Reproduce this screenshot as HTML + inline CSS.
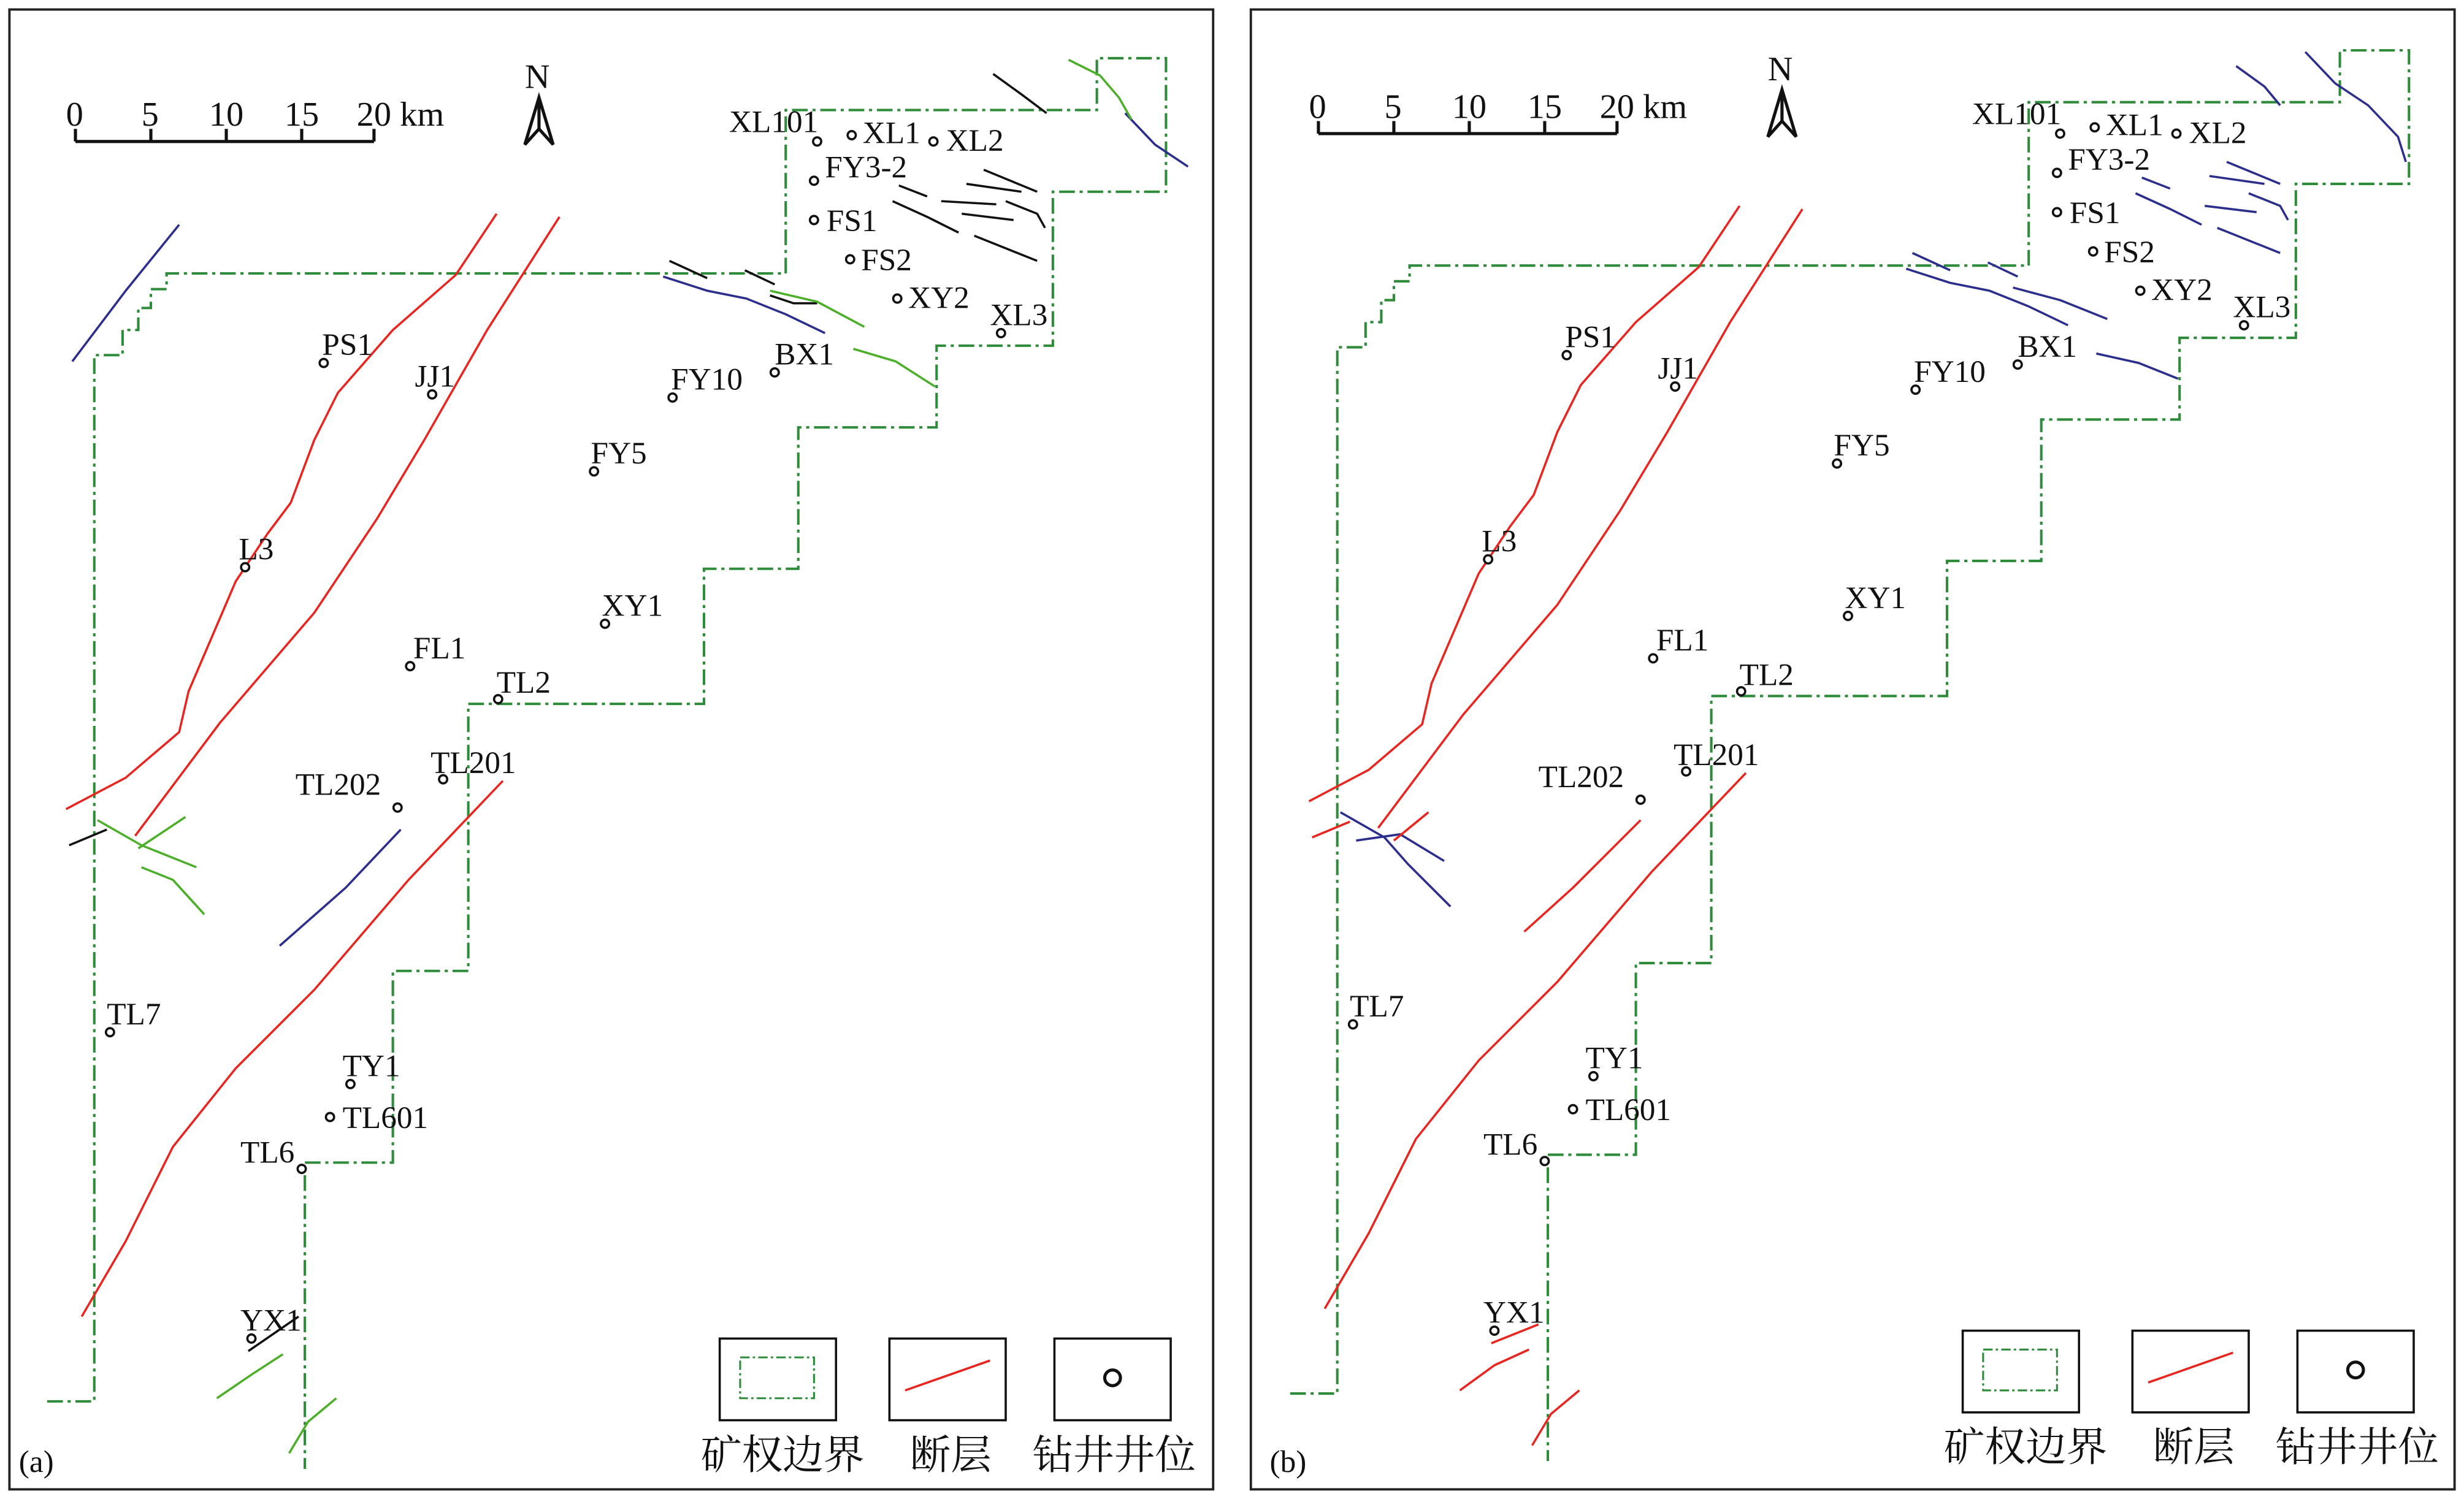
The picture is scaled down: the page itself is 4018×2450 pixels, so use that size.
<!DOCTYPE html>
<html><head><meta charset="utf-8"><style>
html,body{margin:0;padding:0;background:#fff;}
svg{display:block;}
text{font-family:"Liberation Serif","Noto Serif CJK SC",serif;fill:#111;}
.w{font-size:20px;}
.s{font-size:22px;}
.lg{font-size:26px;font-family:"Liberation Serif","Noto Serif CJK SC","Noto Sans CJK SC",serif;}
.b{fill:none;stroke:#2e8b3a;stroke-width:1.6;stroke-dasharray:10,3,2,3;}
.r{fill:none;stroke:#e8251f;stroke-width:1.4;stroke-linejoin:round;}
.bl{fill:none;stroke:#2b2e8c;stroke-width:1.4;stroke-linejoin:round;}
.g{fill:none;stroke:#4caf2a;stroke-width:1.4;stroke-linejoin:round;}
.k{fill:none;stroke:#111;stroke-width:1.4;stroke-linejoin:round;}
.d{fill:#fff;stroke:#111;stroke-width:1.4;}
</style></head><body>
<svg width="4018" height="2450" viewBox="0 0 1568 956" xmlns="http://www.w3.org/2000/svg">
<rect width="1568" height="956" fill="#fff"/>
<defs>
<g id="common">
<polyline class="b" points="30,892 60,892 60,226 78,226 78,210 88,210 88,196 96,196 96,184 106,184 106,174 500,174 500,70 698,70 698,37 742,37 742,122 670,122 670,220 596,220 596,272 508,272 508,362 448,362 448,448 298,448 298,618 250,618 250,740 194,740 194,935"/>
<path d="M48,90 H238 M48,82 V90 M96,82 V90 M144,82 V90 M192,82 V90 M238,82 V90" stroke="#111" stroke-width="2" fill="none"/>
<text x="42" y="80" class="s">0</text><text x="90" y="80" class="s">5</text><text x="133" y="80" class="s">10</text><text x="181" y="80" class="s">15</text><text x="227" y="80" class="s">20 km</text>
<text x="334" y="56" class="s">N</text>
<path d="M343,62 L334,92 L343,82 L352,92 Z" fill="none" stroke="#111" stroke-width="2"/>
<path d="M343,62 L343,82" stroke="#111" stroke-width="2"/>
<rect x="458" y="852" width="74" height="52" fill="none" stroke="#111" stroke-width="1.4"/>
<rect x="471" y="864" width="47" height="26" class="b" style="stroke-dasharray:6,2,1.5,2;stroke-width:1.2"/>
<rect x="566" y="852" width="74" height="52" fill="none" stroke="#111" stroke-width="1.4"/>
<line x1="576" y1="885" x2="630" y2="866" class="r"/>
<rect x="671" y="852" width="74" height="52" fill="none" stroke="#111" stroke-width="1.4"/>
<circle cx="708" cy="877" r="5" class="d" style="stroke-width:2"/>
<text x="446" y="935" class="lg">矿权边界</text>
<text x="579" y="935" class="lg">断层</text>
<text x="657" y="935" class="lg">钻井井位</text>
<polyline class="r" points="42,515 80,495 114,466 120,440 150,370 170,340 185,320 200,280 215,250 250,210 290,175 316,136"/>
<polyline class="r" points="86,532 140,460 200,390 240,330 270,280 310,210 356,138"/>
<polyline class="r" points="52,838 80,790 110,730 150,680 200,630 260,560 320,497"/>
<g>
<circle cx="520" cy="90" r="2.6" class="d"/><text x="464" y="84" class="w">XL101</text>
<circle cx="542" cy="86" r="2.6" class="d"/><text x="549" y="91" class="w">XL1</text>
<circle cx="594" cy="90" r="2.6" class="d"/><text x="602" y="96" class="w">XL2</text>
<circle cx="518" cy="115" r="2.6" class="d"/><text x="525" y="113" class="w">FY3-2</text>
<circle cx="518" cy="140" r="2.6" class="d"/><text x="526" y="147" class="w">FS1</text>
<circle cx="541" cy="165" r="2.6" class="d"/><text x="548" y="172" class="w">FS2</text>
<circle cx="571" cy="190" r="2.6" class="d"/><text x="578" y="196" class="w">XY2</text>
<circle cx="637" cy="212" r="2.6" class="d"/><text x="630" y="207" class="w">XL3</text>
<circle cx="493" cy="237" r="2.6" class="d"/><text x="493" y="232" class="w">BX1</text>
<circle cx="428" cy="253" r="2.6" class="d"/><text x="427" y="248" class="w">FY10</text>
<circle cx="378" cy="300" r="2.6" class="d"/><text x="376" y="295" class="w">FY5</text>
<circle cx="206" cy="231" r="2.6" class="d"/><text x="205" y="226" class="w">PS1</text>
<circle cx="275" cy="251" r="2.6" class="d"/><text x="264" y="246" class="w">JJ1</text>
<circle cx="156" cy="361" r="2.6" class="d"/><text x="152" y="356" class="w">L3</text>
<circle cx="385" cy="397" r="2.6" class="d"/><text x="383" y="392" class="w">XY1</text>
<circle cx="261" cy="424" r="2.6" class="d"/><text x="263" y="419" class="w">FL1</text>
<circle cx="317" cy="445" r="2.6" class="d"/><text x="316" y="441" class="w">TL2</text>
<circle cx="282" cy="496" r="2.6" class="d"/><text x="274" y="492" class="w">TL201</text>
<circle cx="253" cy="514" r="2.6" class="d"/><text x="188" y="506" class="w">TL202</text>
<circle cx="70" cy="657" r="2.6" class="d"/><text x="68" y="652" class="w">TL7</text>
<circle cx="223" cy="690" r="2.6" class="d"/><text x="218" y="685" class="w">TY1</text>
<circle cx="210" cy="711" r="2.6" class="d"/><text x="218" y="718" class="w">TL601</text>
<circle cx="192" cy="744" r="2.6" class="d"/><text x="153" y="740" class="w">TL6</text>
<circle cx="160" cy="852" r="2.6" class="d"/><text x="153" y="847" class="w">YX1</text>
</g>
</g>
</defs>

<rect x="6" y="6" width="766" height="942" fill="none" stroke="#222" stroke-width="1.5"/>
<use href="#common"/>
<text x="12" y="937" class="w">(a)</text>
<polyline class="bl" points="46,230 80,185 114,143"/>
<polyline class="bl" points="178,602 220,565 255,528"/>
<polyline class="bl" points="422,176 450,185 475,190 500,200 525,212"/>
<polyline class="bl" points="716,72 735,92 756,106"/>
<polyline class="g" points="680,38 700,48 712,62 720,76"/>
<polyline class="k" points="632,47 650,60 666,72"/>
<polyline class="k" points="426,166 450,177"/><polyline class="k" points="474,172 493,181"/>
<polyline class="k" points="490,188 505,193 520,193"/>
<polyline class="g" points="490,185 520,192 550,208"/>
<polyline class="g" points="543,222 570,230 595,246"/>
<polyline class="k" points="572,118 590,125"/><polyline class="k" points="568,128 590,138 610,148"/>
<polyline class="k" points="615,117 650,122"/><polyline class="k" points="612,136 645,140"/>
<polyline class="k" points="620,150 660,166"/><polyline class="k" points="640,128 660,136 665,145"/>
<polyline class="k" points="626,108 660,122"/><polyline class="k" points="599,128 634,130"/>
<polyline class="k" points="44,538 68,528"/>
<polyline class="g" points="62,522 90,538 125,552"/>
<polyline class="g" points="88,540 118,520"/>
<polyline class="g" points="90,552 110,560 130,582"/>
<polyline class="k" points="158,860 190,838"/>
<polyline class="g" points="138,890 160,875 180,862"/>
<polyline class="g" points="184,925 196,905 214,890"/>

<rect x="796" y="6" width="766" height="942" fill="none" stroke="#222" stroke-width="1.5"/>
<g transform="translate(791,-5)">
<use href="#common"/>
<polyline class="bl" points="632,47 650,60 660,72"/>
<polyline class="bl" points="676,38 695,58 716,72 735,92 740,108"/>
<polyline class="bl" points="426,166 450,177"/><polyline class="bl" points="474,172 493,181"/>
<polyline class="bl" points="422,176 450,185 475,190 500,200 525,212"/>
<polyline class="bl" points="490,188 520,196 550,208"/>
<polyline class="bl" points="543,230 570,236 595,246"/>
<polyline class="bl" points="572,118 590,125"/><polyline class="bl" points="568,128 590,138 610,148"/>
<polyline class="bl" points="615,117 650,122"/><polyline class="bl" points="612,136 645,140"/>
<polyline class="bl" points="620,150 660,166"/><polyline class="bl" points="640,128 660,136 665,145"/>
<polyline class="bl" points="626,108 660,122"/>
<polyline class="bl" points="62,522 90,538 105,555 132,582"/>
<polyline class="bl" points="72,540 100,536 128,553"/>
<polyline class="r" points="44,538 68,528"/>
<polyline class="r" points="96,540 118,522"/>
<polyline class="r" points="179,598 210,570 253,527"/>
<polyline class="r" points="158,860 188,848"/>
<polyline class="r" points="138,890 160,874 182,864"/>
<polyline class="r" points="184,925 196,905 214,890"/>
</g>
<text x="808" y="937" class="w">(b)</text>
</svg>
</body></html>
